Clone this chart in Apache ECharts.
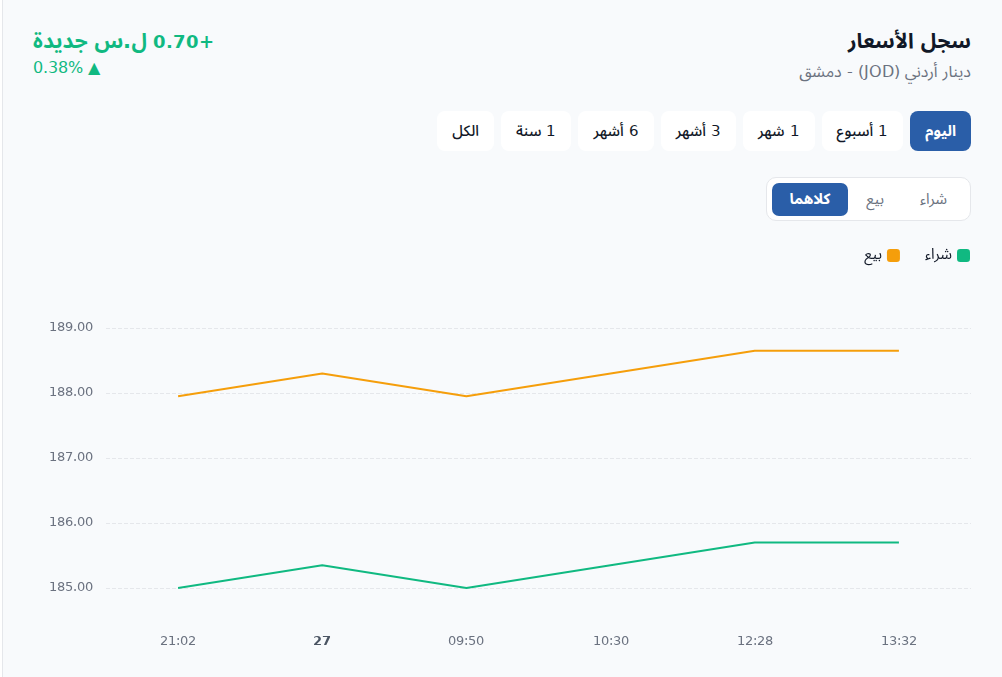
<!DOCTYPE html>
<html lang="ar">
<head>
<meta charset="utf-8">
<script src="https://cdn.jsdelivr.net/npm/echarts@6/dist/echarts.min.js"></script>
<style>
  @font-face { font-family: "Mix"; font-weight: 400; src: local("DejaVu Sans"), local("DejaVuSans"); unicode-range: U+0000-024F, U+2000-25FF; }
  @font-face { font-family: "Mix"; font-weight: 700; src: local("DejaVu Sans Bold"), local("DejaVuSans-Bold"); unicode-range: U+0000-024F, U+2000-25FF; }
  html, body { margin: 0; padding: 0; width: 1002px; height: 677px; overflow: hidden; background: #fff; }
  body { font-family: "Mix", "Noto Sans Arabic", sans-serif; }
  .card { position: absolute; left: 2px; top: -12px; width: 1020px; height: 710px; background: #f8fafc; border: 1px solid #e5e7eb; border-radius: 12px; }
  .title { position: absolute; right: 31px; top: 19px; font-size: 21px; font-weight: 700; color: #111827; direction: rtl; }
  .sub { position: absolute; right: 31px; top: 55px; font-size: 16px; color: #6b7280; direction: rtl; }
  .chg { position: absolute; left: 33px; top: 19px; font-size: 18px; font-weight: 700; color: #10b981; direction: rtl; }
  .chg span { font-size: 21px; }
  .pct { position: absolute; left: 33px; top: 58px; font-size: 16px; color: #10b981; direction: rtl; }
  .ranges { position: absolute; right: 31px; top: 111px; display: flex; direction: rtl; gap: 7px; }
  .ranges div { height: 40px; line-height: 40px; padding: 0 15px; background: #fff; border-radius: 8px; font-size: 15px; font-weight: 500; color: #111827; }
  .ranges div.on { background: #2a5ea8; color: #fff; font-weight: 700; }
  .seg { position: absolute; right: 31px; top: 177px; height: 42px; display: flex; direction: rtl; align-items: center; background: #fff; border: 1px solid #e5e7eb; border-radius: 10px; padding: 0 5px; }
  .seg div { height: 33px; line-height: 33px; padding: 0 18px; font-size: 15px; color: #6b7280; border-radius: 7px; }
  .seg div.on { background: #2a5ea8; color: #fff; font-weight: 700; }
  #chart { position: absolute; left: 0; top: 0; width: 1002px; height: 677px; }
</style>
</head>
<body>
<div class="card"></div>
<div class="title">سجل الأسعار</div>
<div class="sub">دينار أردني (JOD) - دمشق</div>
<div class="chg">+0.70 <span>ل.س جديدة</span></div>
<div class="pct">▲ 0.38%</div>
<div class="ranges">
  <div class="on">اليوم</div>
  <div>1 أسبوع</div>
  <div>1 شهر</div>
  <div>3 أشهر</div>
  <div>6 أشهر</div>
  <div>1 سنة</div>
  <div>الكل</div>
</div>
<div class="seg">
  <div>شراء</div>
  <div>بيع</div>
  <div class="on">كلاهما</div>
</div>
<div id="chart"></div>
<script>
// الأوقات
const times = ['21:02', '27', '09:50', '10:30', '12:28', '13:32']
// سعر الشراء
const buyValues = [185.00, 185.35, 185.00, 185.35, 185.70, 185.70]
// سعر البيع
const sellValues = [187.95, 188.30, 187.95, 188.30, 188.65, 188.65]
const yTicks = [185, 186, 187, 188, 189]

const fontStack = 'Mix, "Noto Sans Arabic", sans-serif'

const initChart = () => {
  const myChart = echarts.init(document.getElementById('chart'))
  const option = {
    animation: false,
    textStyle: { fontFamily: fontStack },
    legend: {
      right: 32,
      top: 248,
      padding: 0,
      align: 'right',
      icon: 'roundRect',
      itemWidth: 13,
      itemHeight: 13,
      itemGap: 25,
      data: ['بيع', 'شراء'],
      textStyle: { fontSize: 15, color: '#111827', fontFamily: fontStack }
    },
    grid: { left: 106, right: 31, top: 328, bottom: 89 },
    xAxis: {
      type: 'category',
      data: times,
      boundaryGap: true,
      axisLine: { show: false },
      axisTick: { show: false },
      axisLabel: {
        margin: 47,
        fontSize: 13,
        color: '#6b7280',
        fontFamily: fontStack,
        formatter: (v) => (v.indexOf(':') < 0 ? '{b|' + v + '}' : v),
        rich: { b: { fontWeight: 'bold', fontSize: 13, color: '#4b5563', fontFamily: fontStack } }
      }
    },
    yAxis: {
      type: 'value',
      min: yTicks[0],
      max: yTicks[yTicks.length - 1],
      interval: 1,
      axisLine: { show: false },
      axisTick: { show: false },
      axisLabel: { margin: 13, fontSize: 13, color: '#6b7280', fontFamily: fontStack, formatter: (v) => v.toFixed(2) },
      splitLine: { lineStyle: { color: '#e5e7eb', type: 'dashed' } }
    },
    series: [
      {
        name: 'شراء',
        type: 'line',
        data: buyValues,
        showSymbol: false,
        itemStyle: { color: '#10b981' },
        lineStyle: { width: 2, color: '#10b981' }
      },
      {
        name: 'بيع',
        type: 'line',
        data: sellValues,
        showSymbol: false,
        itemStyle: { color: '#f59e0b' },
        lineStyle: { width: 2, color: '#f59e0b' }
      }
    ]
  }
  myChart.setOption(option)
}

Promise.all([
  document.fonts.load('13px Mix', '0123'),
  document.fonts.load('bold 13px Mix', '0123')
]).then(initChart, initChart)
</script>
</body>
</html>
